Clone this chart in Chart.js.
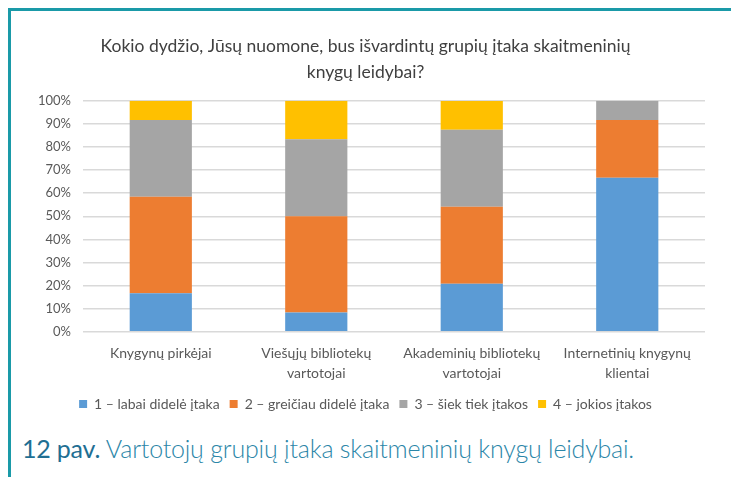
<!DOCTYPE html>
<html>
<head>
<meta charset="utf-8">
<script src="https://cdn.jsdelivr.net/npm/chart.js@4"></script>
<style>
  html, body { margin: 0; padding: 0; background: #fff; }
  #page { position: relative; width: 731px; height: 477px; overflow: hidden; }
  #frameTop { position: absolute; left: 8px; top: 8px; width: 723px; height: 3px; background: #1a9aa8; }
  #frameLeft { position: absolute; left: 8px; top: 8px; width: 3px; height: 469px; background: #1a9aa8; }
  #box { position: absolute; left: 12px; top: 14px; width: 712px; height: 407px; }
  #caption { position: absolute; left: 22px; top: 433px; font-family: Lato, sans-serif; font-size: 25px; color: #2b86a8; font-weight: 300; white-space: nowrap; letter-spacing: -0.2px; }
  #caption b { font-weight: 400; color: #1f6f93; }
</style>
</head>
<body>
<div id="page">
  <div id="frameTop"></div>
  <div id="frameLeft"></div>
  <div id="box"><canvas id="myChart"></canvas></div>
  <div id="caption"><b>12 pav.</b> Vartotojų grupių įtaka skaitmeninių knygų leidybai.</div>
</div>
<script>
const categories = [
    ['Knygynų pirkėjai'],
    ['Viešųjų bibliotekų', 'vartotojai'],
    ['Akademinių bibliotekų', 'vartotojai'],
    ['Internetinių knygynų', 'klientai']
];
const seriesNames = ['1 – labai didelė įtaka', '2 – greičiau didelė įtaka', '3 – šiek tiek įtakos', '4 – jokios įtakos'];
const labaiDidele = [16.7, 8.3, 20.8, 66.7];
const greiciauDidele = [41.7, 41.7, 33.3, 25.0];
const siekTiek = [33.3, 33.3, 33.3, 8.3];
const jokios = [8.3, 16.7, 12.5, 0];
const colors = ['#5b9bd5', '#ed7d31', '#a5a5a5', '#ffc000'];

const ctx = document.getElementById('myChart').getContext('2d');
const allSeries = [labaiDidele, greiciauDidele, siekTiek, jokios];

const myChart = new Chart(ctx, {
    type: 'bar',
    data: {
        labels: categories,
        datasets: allSeries.map((d, i) => ({
            label: seriesNames[i],
            data: d,
            backgroundColor: colors[i],
            borderWidth: 0,
            barPercentage: 0.4,
            categoryPercentage: 1.0
        }))
    },
    options: {
        responsive: true,
        maintainAspectRatio: false,
        animation: false,
        layout: { padding: { left: 14, right: 19, top: 4, bottom: 0 } },
        scales: {
            x: {
                stacked: true,
                grid: { display: false },
                border: { display: false },
                ticks: { color: '#595959', font: { family: 'Lato', size: 14, lineHeight: 1.4 }, maxRotation: 0, padding: 4 }
            },
            y: {
                stacked: true,
                min: 0,
                max: 100,
                ticks: {
                    stepSize: 10,
                    color: '#595959',
                    font: { family: 'Lato', size: 13 },
                    padding: 12,
                    callback: v => v + '%'
                },
                grid: { color: '#d9d9d9', lineWidth: 1.5, drawTicks: false },
                border: { display: false }
            }
        },
        plugins: {
            title: {
                display: true,
                text: ['Kokio dydžio, Jūsų nuomone, bus išvardintų grupių įtaka skaitmeninių', 'knygų leidybai?'],
                color: '#404040',
                font: { family: 'Lato', size: 17.5, weight: 'normal', lineHeight: 1.45 },
                padding: { top: 16, bottom: 16 }
            },
            legend: {
                position: 'bottom',
                labels: {
                    color: '#595959',
                    font: { family: 'Lato', size: 14 },
                    boxWidth: 8,
                    boxHeight: 8,
                    padding: 10
                }
            },
            tooltip: { enabled: false }
        }
    }
});
</script>
</body>
</html>
